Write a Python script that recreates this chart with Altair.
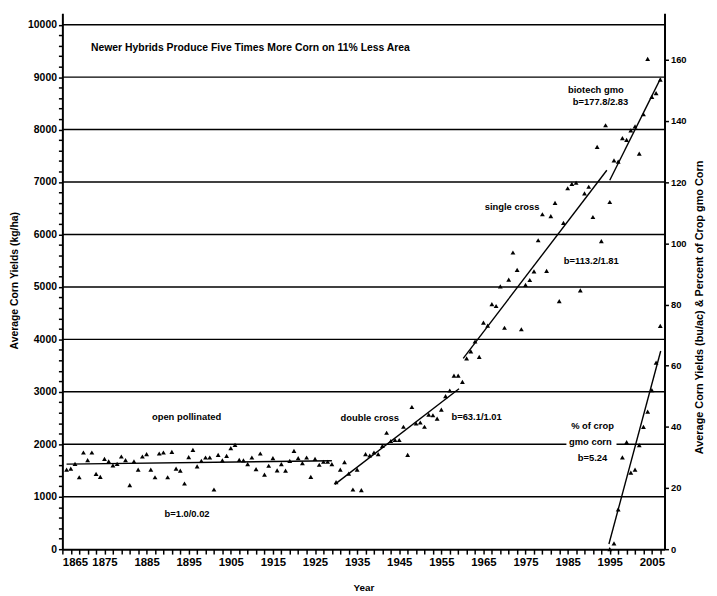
import altair as alt
import pandas as pd

# ---------------- data ----------------
# Left axis (kg/ha): open pollinated + double cross eras
years_kg = list(range(1866, 1960))
yield_kg = [
    1515, 1534, 1628, 1371, 1843, 1698, 1843, 1434, 1377, 1723,   # 1866-1875
    1673, 1598, 1628, 1767, 1698, 1220, 1673, 1515, 1767, 1811,   # 1876-1885
    1515, 1371, 1824, 1843, 1371, 1855, 1534, 1497, 1252, 1755,   # 1886-1895
    1893, 1579, 1685, 1748, 1748, 1138, 1799, 1692, 1780, 1925,   # 1896-1905
    1987, 1704, 1692, 1623, 1748, 1528, 1824, 1421, 1591, 1736,   # 1906-1915
    1503, 1623, 1497, 1685, 1874, 1736, 1642, 1748, 1377, 1723,   # 1916-1925
    1610, 1667, 1667, 1623, 1277, 1515, 1660, 1440, 1138, 1515,   # 1926-1935
    1126, 1811, 1786, 1843, 1811, 1968, 2220, 2063, 2082, 2082,   # 1936-1945
    2334, 1799, 2711, 2396, 2415, 2334, 2566, 2553, 2490, 2660,   # 1946-1955
    2918, 3025, 3308, 3308,                                       # 1956-1959
]

# Right axis (bu/ac): single cross + biotech eras
years_bu = list(range(1960, 2008))
yield_bu = [
    54.7, 62.4, 64.7, 67.9, 62.9, 74.1, 73.1, 80.1, 79.5, 85.9,   # 1960-1969
    72.4, 88.1, 97.0, 91.3, 71.9, 86.4, 88.0, 90.8, 101.0, 109.5, # 1970-1979
    91.0, 108.9, 113.2, 81.1, 106.7, 118.0, 119.4, 119.8, 84.6, 116.3,  # 1980-1989
    118.5, 108.6, 131.5, 100.7, 138.6, 113.5, 127.1, 126.7, 134.4, 133.8,  # 1990-1999
    136.9, 138.2, 129.3, 142.2, 160.3, 147.9, 149.1, 153.5,       # 2000-2007
]

# Right axis (%): share of crop that is gmo corn
gmo_years = list(range(1995, 2008))
gmo_pct = [0, 1.9, 13, 30, 35, 25, 26, 34, 40, 45, 52, 61, 73]

# Regression lines (segment name, start/end year, start/end value)
left_seg_names = ["open pollinated", "double cross"]
left_seg_years = [(1866, 1929), (1929.7, 1959.2)]
left_seg_vals = [(1622, 1685), (1235, 3060)]

right_seg_names = ["single cross", "biotech gmo", "gmo share"]
right_seg_years = [(1960.2, 1994.3), (1995.0, 2007.1), (1994.8, 2007.1)]
right_seg_vals = [(62.4, 123.9), (120.6, 154.0), (1.7, 64.8)]

# Horizontal rules (kg/ha) with their year spans (the 2000 rule is broken by a label)
grid_kg = [1000, 2000, 2000, 3000, 4000, 5000, 6000, 7000, 8000, 9000, 10000]
grid_from = [1865, 1865, 1996.6, 1865, 1865, 1865, 1865, 1865, 1865, 1865, 1865]
grid_to = [2008, 1984.7, 2008, 2008, 2008, 2008, 2008, 2008, 2008, 2008, 2008]

# Annotations placed in data units (year, kg/ha)
ann_text = ["open pollinated", "b=1.0/0.02", "double cross", "single cross",
            "b=113.2/1.81", "biotech gmo", "b=177.8/2.83", "% of crop",
            "gmo corn", "b=5.24"]
ann_year = [1894.5, 1894.6, 1938.0, 1971.8, 1990.6, 1991.7, 1992.8, 1990.9, 1990.4, 1990.9]
ann_kg = [2526, 679, 2507, 6528, 5485, 8760, 8520, 2351, 2036, 1747]

ann2_text = ["b=63.1/1.01"]
ann2_year = [1957.4]
ann2_kg = [2520]

title_text = ["Newer Hybrids Produce Five Times More Corn on 11% Less Area"]
title_year = [1871.8]
title_kg = [9557]

# ---------------- tables ----------------
df_kg = pd.DataFrame({"year": years_kg, "kg": yield_kg})
df_bu = pd.DataFrame({"year": years_bu + gmo_years, "bu": yield_bu + gmo_pct})

rows = []
for n, (y0, y1), (v0, v1) in zip(left_seg_names, left_seg_years, left_seg_vals):
    rows += [{"seg": n, "year": y0, "kg": v0}, {"seg": n, "year": y1, "kg": v1}]
df_lseg = pd.DataFrame(rows)
rows = []
for n, (y0, y1), (v0, v1) in zip(right_seg_names, right_seg_years, right_seg_vals):
    rows += [{"seg": n, "year": y0, "bu": v0}, {"seg": n, "year": y1, "bu": v1}]
df_rseg = pd.DataFrame(rows)

df_grid = pd.DataFrame({"kg": grid_kg, "year": grid_from, "year2": grid_to})
df_ann = pd.DataFrame({"year": ann_year, "kg": ann_kg, "t": ann_text})
df_ann2 = pd.DataFrame({"year": ann2_year, "kg": ann2_kg, "t": ann2_text})
df_title = pd.DataFrame({"year": title_year, "kg": title_kg, "t": title_text})

FONT = "Liberation Sans"

# ---------------- scales & axes ----------------
xscale = alt.Scale(domain=[1865, 2008], nice=False, zero=False)
xaxis = alt.Axis(
    values=list(range(1865, 2008, 2)),
    labelExpr="(datum.value - 1865) % 10 === 0 ? datum.label : ''",
    format="d", grid=False, labelOverlap=False,
    domainColor="black", domainWidth=2, tickColor="black", tickSize=5, tickWidth=1.5,
    labelFont=FONT, labelFontSize=11.5, labelFontWeight="bold", labelColor="black",
    labelPadding=3, title="Year", titleFont=FONT, titleFontSize=10,
    titleFontWeight="bold", titleColor="black", titlePadding=14,
)
X = alt.X("year:Q", scale=xscale, axis=xaxis)

lscale = alt.Scale(domain=[0, 10217], nice=False)
laxis = alt.Axis(
    orient="left", values=list(range(0, 10001, 200)),
    labelExpr="datum.value % 1000 === 0 ? datum.label : ''",
    format="d", grid=False, labelOverlap=False,
    domainColor="black", domainWidth=2, tickColor="black", tickSize=4, tickWidth=1.5,
    labelFont=FONT, labelFontSize=10.5, labelFontWeight="bold", labelColor="black",
    labelPadding=2, title="Average Corn Yields (kg/ha)", titleFont=FONT,
    titleFontSize=10.5, titleFontWeight="bold", titleColor="black",
    titleX=-48, titleY=270, titleBaseline="middle",
)
YL = alt.Y("kg:Q", scale=lscale, axis=laxis)

rscale = alt.Scale(domain=[0, 175.2], nice=False)
raxis = alt.Axis(
    orient="right", values=list(range(0, 161, 20)), format="d", grid=False,
    domainColor="black", domainWidth=2, tickColor="black", tickSize=4, tickWidth=1.5,
    labelFont=FONT, labelFontSize=9.5, labelFontWeight="bold", labelColor="black",
    labelPadding=2, title="Average Corn Yields (bu/ac) & Percent of Crop gmo Corn",
    titleFont=FONT, titleFontSize=11, titleFontWeight="bold", titleColor="black",
    titleAngle=270, titleX=35, titleY=297, titleBaseline="middle",
)
YR = alt.Y("bu:Q", scale=rscale, axis=raxis)

# ---------------- left group ----------------
grid = alt.Chart(df_grid).mark_rule(color="black", strokeWidth=1.5).encode(
    x=X, x2="year2:Q", y=YL)
pts_l = alt.Chart(df_kg).mark_point(shape="triangle-up", filled=True, color="black",
                                    size=24, opacity=1).encode(x=X, y=YL)
lines_l = alt.Chart(df_lseg).mark_line(color="black", strokeWidth=1.4).encode(
    x=X, y=YL, detail="seg:N")
ann = alt.Chart(df_ann).mark_text(font=FONT, fontSize=9.5, fontWeight="bold",
                                  color="black", align="center", baseline="middle").encode(
    x=X, y=YL, text="t:N")
ann2 = alt.Chart(df_ann2).mark_text(font=FONT, fontSize=9.5, fontWeight="bold",
                                    color="black", align="left", baseline="middle").encode(
    x=X, y=YL, text="t:N")
ttl = alt.Chart(df_title).mark_text(font=FONT, fontSize=10.5, fontWeight="bold",
                                    color="black", align="left", baseline="middle").encode(
    x=X, y=YL, text="t:N")
left = alt.layer(grid, lines_l, pts_l, ann, ann2, ttl)

# ---------------- right group ----------------
pts_r = alt.Chart(df_bu).mark_point(shape="triangle-up", filled=True, color="black",
                                    size=24, opacity=1).encode(x=X, y=YR)
lines_r = alt.Chart(df_rseg).mark_line(color="black", strokeWidth=1.4).encode(
    x=X, y=YR, detail="seg:N")
right = alt.layer(lines_r, pts_r)

chart = alt.layer(left, right).resolve_scale(y="independent").properties(
    width=609, height=542,
    autosize=alt.AutoSizeParams(type="none"),
    padding={"left": 55, "top": 2, "right": 45, "bottom": 44},
    background="white",
).configure_view(stroke=None)

chart.save("out.html", embed_options={"renderer": "svg", "actions": False})
